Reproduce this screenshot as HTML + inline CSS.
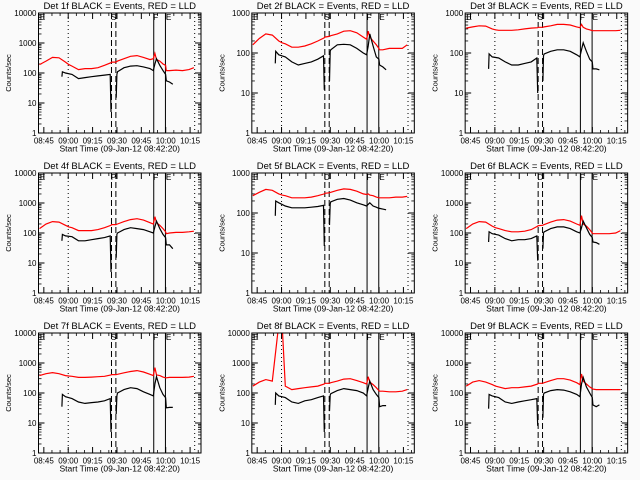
<!DOCTYPE html>
<html><head><meta charset="utf-8">
<style>
html,body{margin:0;padding:0;background:#fafafa;}
svg{display:block;font-family:"Liberation Sans",sans-serif;}
</style></head>
<body>
<svg id="chart" width="640" height="480" viewBox="0 0 640 480" xmlns="http://www.w3.org/2000/svg">
<rect x="0" y="0" width="640" height="480" fill="#fafafa"/>
</svg>
<script>
// time grids: minutes since 08:42:20
const redTimes = [0,4,8,12,16,18,20,24,28,32,36,40,44,44.3,47,48,52,56,60,64,68,70,71,72,74,76,77.6,78,80,84,88,92,95];
const blackTimes = [13.8,14.1,16,20,24,28,32,36,40,43.5,44.0,45,47.2,47.6,48,52,56,60,64,68,70,71,72,74,76,77.6,78,80,82];
const panelTitles = ["Det 1f","Det 2f","Det 3f","Det 4f","Det 5f","Det 6f","Det 7f","Det 8f","Det 9f"];
const panelDecades = [4,3,3,4,3,4,4,4,4];
const panelLetters = ["S","S","S","P","D","D","S","S","S"];
const xTickLabels = ["08:45","09:00","09:15","09:30","09:45","10:00","10:15"];
const xTickTimes = [2.67,17.67,32.67,47.67,62.67,77.67,92.67];
const markerDotted = [17.67,95.5];
const markerDashed = [44.3,47.0];
const markerSolid = [70.3,77.5];

const red1 = [190,250,330,320,230,190,170,130,140,140,150,180,220,230,230,250,300,360,380,330,280,300,450,280,250,200,180,120,120,125,120,130,150];
const red2 = [160,230,300,280,200,180,170,140,140,150,170,200,240,250,260,270,300,350,360,320,250,220,350,250,200,160,130,120,120,130,130,130,160];
const red3 = [420,450,480,470,400,380,370,370,370,380,400,420,430,440,440,450,480,520,520,500,450,430,520,440,400,380,360,360,360,360,360,360,370];
const red4 = [140,200,240,230,180,160,150,120,120,120,130,150,180,190,190,200,240,280,300,270,220,200,350,220,180,140,110,95,100,105,105,110,115];
const red5 = [270,330,390,370,300,280,270,240,240,240,250,270,300,310,320,330,370,400,390,350,300,290,300,280,270,250,240,240,240,240,250,250,260];
const red6 = [140,200,240,230,170,150,140,120,110,110,115,130,170,175,180,190,230,270,280,250,200,180,380,200,170,130,100,95,95,95,95,100,120];
const red7 = [380,440,480,440,380,370,360,330,330,340,350,360,400,410,410,420,470,520,560,500,420,380,700,400,380,340,320,320,330,330,330,340,360];
const red8 = [170,230,280,250,20000,20000,170,130,140,150,160,170,200,210,210,220,250,290,300,260,220,200,350,230,190,150,120,115,115,110,110,115,130];
const red9 = [170,230,260,230,190,170,160,140,150,150,160,170,200,210,210,220,260,300,300,270,220,190,430,250,200,160,140,135,130,130,130,130,130];

const black1 = [75,110,100,90,65,70,75,80,85,90,5,null,15,90,110,150,170,175,160,140,120,200,300,180,120,90,55,50,42];
const black2 = [55,110,90,80,60,50,55,60,70,85,12,null,20,110,120,160,165,160,130,100,90,150,300,150,80,70,50,45,38];
const black3 = [40,95,80,75,60,50,50,55,60,75,10,null,20,85,95,110,120,120,110,90,80,120,180,110,70,60,40,40,38];
const black4 = [55,90,80,75,55,55,60,65,70,80,5,null,15,90,100,130,150,140,130,110,100,160,250,140,90,70,40,40,30];
const black5 = [85,200,180,150,135,135,135,140,145,155,15,null,50,170,190,220,230,210,180,160,150,165,180,150,140,130,130,125,120];
const black6 = [50,110,95,85,65,55,60,60,65,80,12,null,30,100,110,140,160,160,140,110,100,150,250,150,90,70,50,48,42];
const black7 = [35,90,75,65,50,45,48,50,55,65,5,null,20,80,100,130,150,140,110,90,80,200,350,150,90,70,32,33,33];
const black8 = [40,100,80,70,50,45,55,60,70,80,5,null,25,85,95,120,140,130,120,100,80,150,250,130,90,70,35,38,38];
const black9 = [30,90,80,70,50,45,50,55,60,65,8,null,15,90,100,120,130,125,110,90,75,200,330,160,100,70,40,35,40];

const redSeries = [red1,red2,red3,red4,red5,red6,red7,red8,red9];
const blackSeries = [black1,black2,black3,black4,black5,black6,black7,black8,black9];

const NS = "http://www.w3.org/2000/svg";
const svg = document.getElementById("chart");
function mk(tag, attrs, parent){
  const e = document.createElementNS(NS, tag);
  for (const k in attrs) e.setAttribute(k, attrs[k]);
  parent.appendChild(e);
  return e;
}

for (let p = 0; p < 9; p++) {
  const col = p % 3, row = Math.floor(p / 3);
  const ox = col * 213.33, oy = row * 160;
  const L = ox + 38.5, R = ox + 201, T = oy + 13, B = oy + 133;
  const dec = panelDecades[p];
  const xs = t => ox + 39.5 + t * 1.625;
  const ys = v => B - Math.log10(v) / dec * (B - T);

  const g = mk("g", {}, svg);
  
  

  const clip = mk("clipPath", {id: "clip" + p}, g);
  mk("rect", {x: L, y: T, width: R - L, height: B - T}, clip);

  const title = mk("text", {x: (L + R) / 2, y: oy + 9, "text-anchor": "middle", "font-size": "9.5", fill: "#000"}, g);
  title.textContent = panelTitles[p] + " BLACK = Events, RED = LLD";
  
  

  const yl = mk("text", {x: 0, y: 0, "text-anchor": "middle", "font-size": "7.5", fill: "#000", transform: `translate(${ox + 11},${(T + B) / 2}) rotate(-90)`}, g);
  yl.textContent = "Counts/sec";
  
  

  const xl = mk("text", {x: (L + R) / 2, y: B + 18.5, "text-anchor": "middle", "font-size": "8.5", fill: "#000"}, g);
  xl.textContent = "Start Time (09-Jan-12 08:42:20)";
  
  

  for (let d = 0; d <= dec; d++) {
    const y = ys(Math.pow(10, d));
    mk("line", {x1: L, x2: L + 6, y1: y, y2: y, stroke: "#000", "stroke-width": 1}, g);
    mk("line", {x1: R - 6, x2: R, y1: y, y2: y, stroke: "#000", "stroke-width": 1}, g);
    const tl = mk("text", {x: L - 2, y: y + 3, "text-anchor": "end", "font-size": "8", fill: "#000"}, g);
    tl.textContent = String(Math.pow(10, d));
    
    
    if (d < dec) {
      for (let m = 2; m <= 9; m++) {
        const ym = ys(m * Math.pow(10, d));
        mk("line", {x1: L, x2: L + 3, y1: ym, y2: ym, stroke: "#000", "stroke-width": 0.8}, g);
        mk("line", {x1: R - 3, x2: R, y1: ym, y2: ym, stroke: "#000", "stroke-width": 0.8}, g);
      }
    }
  }
  xTickTimes.forEach((t, i) => {
    const x = xs(t);
    mk("line", {x1: x, x2: x, y1: B, y2: B - 6, stroke: "#000", "stroke-width": 1}, g);
    mk("line", {x1: x, x2: x, y1: T, y2: T + 6, stroke: "#000", "stroke-width": 1}, g);
    const tl = mk("text", {x: x, y: B + 10.5, "text-anchor": "middle", "font-size": "8", fill: "#000"}, g);
    tl.textContent = xTickLabels[i];
    
    
    for (let m = 1; m < 3; m++) {
      const xm = xs(t + m * 5);
      if (xm < R) {
        mk("line", {x1: xm, x2: xm, y1: B, y2: B - 3, stroke: "#000", "stroke-width": 0.8}, g);
        mk("line", {x1: xm, x2: xm, y1: T, y2: T + 3, stroke: "#000", "stroke-width": 0.8}, g);
      }
    }
  });

  markerDotted.forEach(t => mk("line", {x1: xs(t), x2: xs(t), y1: T, y2: B, stroke: "#000", "stroke-width": 1, "stroke-dasharray": "1,3"}, g));
  markerDashed.forEach(t => mk("line", {x1: xs(t), x2: xs(t), y1: T, y2: B, stroke: "#000", "stroke-width": 1, "stroke-dasharray": "6,3"}, g));
  markerSolid.forEach(t => mk("line", {x1: xs(t), x2: xs(t), y1: T, y2: B, stroke: "#000", "stroke-width": 1}, g));
  const letters = [["E", L + 4], [panelLetters[p], xs(45.6)], ["F", xs(71.5)], ["E", xs(79.5)]];
  letters.forEach(([s, x]) => {
    const lt = mk("text", {x: x, y: T + 7, "text-anchor": "middle", "font-size": "8", fill: "#000"}, g);
    lt.textContent = s;
    
    
  });

  function drawSeries(times, vals, color, name) {
    let segs = [], cur = [];
    vals.forEach((v, i) => {
      if (v === null) { if (cur.length) segs.push(cur); cur = []; }
      else cur.push(xs(times[i]).toFixed(1) + "," + ys(v).toFixed(1));
    });
    if (cur.length) segs.push(cur);
    segs.forEach(s => {
      const pl = mk("polyline", {points: s.join(" "), fill: "none", stroke: color, "stroke-width": 1.2, "clip-path": `url(#clip${p})`}, g);
      
      
    });
  }
  drawSeries(redTimes, redSeries[p], "#ff0000", "lld-series-red");
  drawSeries(blackTimes, blackSeries[p], "#000000", "events-series-black");

  const fr = mk("rect", {x: L, y: T, width: R - L, height: B - T, fill: "none", stroke: "#000", "stroke-width": 1}, g);
  
  
}
</script>
</body></html>
